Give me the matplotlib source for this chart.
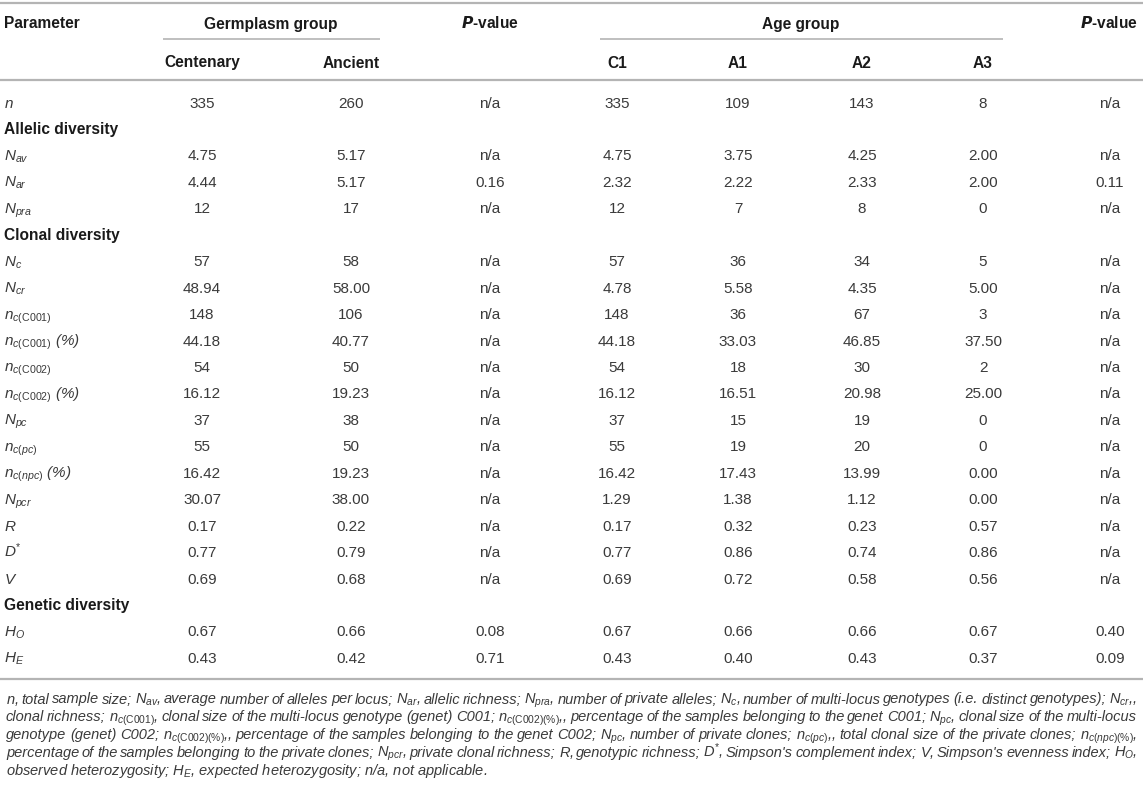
import matplotlib
matplotlib.use("Agg")
import matplotlib.pyplot as plt

plt.rcParams['font.family'] = ['Liberation Sans', 'DejaVu Sans']
plt.rcParams['mathtext.fontset'] = 'custom'
plt.rcParams['mathtext.rm'] = 'Liberation Sans'
plt.rcParams['mathtext.it'] = 'Liberation Sans:italic'
plt.rcParams['mathtext.bf'] = 'Liberation Sans:bold'

# ---------------- data ----------------
parameters = [r"$n$", "Allelic diversity", r"$N_{av}$", r"$N_{ar}$", r"$N_{pra}$",
              "Clonal diversity", r"$N_{c}$", r"$N_{cr}$", r"$n_{c(\mathrm{C001})}$",
              r"$n_{c(\mathrm{C001})}$ (%)", r"$n_{c(\mathrm{C002})}$", r"$n_{c(\mathrm{C002})}$ (%)",
              r"$N_{pc}$", r"$n_{c(pc)}$", r"$n_{c(npc)}$ (%)", r"$N_{pcr}$", r"$R$", r"$D^{*}$",
              r"$V$", "Genetic diversity", r"$H_{O}$", r"$H_{E}$"]
section_rows = ["Allelic diversity", "Clonal diversity", "Genetic diversity"]

centenary = ["335", "", "4.75", "4.44", "12", "", "57", "48.94", "148", "44.18", "54", "16.12",
             "37", "55", "16.42", "30.07", "0.17", "0.77", "0.69", "", "0.67", "0.43"]
ancient = ["260", "", "5.17", "5.17", "17", "", "58", "58.00", "106", "40.77", "50", "19.23",
           "38", "50", "19.23", "38.00", "0.22", "0.79", "0.68", "", "0.66", "0.42"]
p_germplasm = ["n/a", "", "n/a", "0.16", "n/a", "", "n/a", "n/a", "n/a", "n/a", "n/a", "n/a",
               "n/a", "n/a", "n/a", "n/a", "n/a", "n/a", "n/a", "", "0.08", "0.71"]
c1 = ["335", "", "4.75", "2.32", "12", "", "57", "4.78", "148", "44.18", "54", "16.12",
      "37", "55", "16.42", "1.29", "0.17", "0.77", "0.69", "", "0.67", "0.43"]
a1 = ["109", "", "3.75", "2.22", "7", "", "36", "5.58", "36", "33.03", "18", "16.51",
      "15", "19", "17.43", "1.38", "0.32", "0.86", "0.72", "", "0.66", "0.40"]
a2 = ["143", "", "4.25", "2.33", "8", "", "34", "4.35", "67", "46.85", "30", "20.98",
      "19", "20", "13.99", "1.12", "0.23", "0.74", "0.58", "", "0.66", "0.43"]
a3 = ["8", "", "2.00", "2.00", "0", "", "5", "5.00", "3", "37.50", "2", "25.00",
      "0", "0", "0.00", "0.00", "0.57", "0.86", "0.56", "", "0.67", "0.37"]
p_age = ["n/a", "", "n/a", "0.11", "n/a", "", "n/a", "n/a", "n/a", "n/a", "n/a", "n/a",
         "n/a", "n/a", "n/a", "n/a", "n/a", "n/a", "n/a", "", "0.40", "0.09"]

column_labels = ["Centenary", "Ancient", "", "C1", "A1", "A2", "A3", ""]
group_labels = ["Germplasm group", "Age group"]
pvalue_label = r"$\mathbfit{P}$-value"

footnote_lines = [
    r"$n$, total sample size; $N_{av}$, average number of alleles per locus; $N_{ar}$, allelic richness; $N_{pra}$, number of private alleles; $N_{c}$, number of multi-locus genotypes (i.e. distinct genotypes); $N_{cr}$,,",
    r"clonal richness; $n_{c(\mathrm{C001})}$, clonal size of the multi-locus genotype (genet) C001; $n_{c(\mathrm{C002})(\%)}$,, percentage of the samples belonging to the genet C001; $N_{pc}$, clonal size of the multi-locus",
    r"genotype (genet) C002; $n_{c(\mathrm{C002})(\%)}$,, percentage of the samples belonging to the genet C002; $N_{pc}$, number of private clones; $n_{c(pc)}$,, total clonal size of the private clones; $n_{c(npc)(\%)}$,",
    r"percentage of the samples belonging to the private clones; $N_{pcr}$, private clonal richness; $R$, genotypic richness; $D^{*}$, Simpson's complement index; $V$, Simpson's evenness index; $H_{O}$,",
    r"observed heterozygosity; $H_{E}$, expected heterozygosity; n/a, not applicable.",
]

# ---------------- layout ----------------
W, H = 1143, 787
fig = plt.figure(figsize=(W / 100, H / 100), dpi=100)
ax = fig.add_axes([0, 0, 1, 1])
ax.set_xlim(0, W)
ax.set_ylim(H, 0)
ax.axis('off')

TXT = '#1a1a1a'
VAL = '#3a3a3a'
LINE = '#b4b4b4'
FS = 11.0
BFS = 11.2
BASE = 5.5  # baseline offset from row centre (px)

col_x = [202, 351, 490, 617, 738, 862, 983, 1110]
columns = [centenary, ancient, p_germplasm, c1, a1, a2, a3, p_age]

# rules
ax.plot([0, W], [3, 3], color=LINE, lw=1.6, solid_capstyle='butt')
ax.plot([0, W], [80, 80], color=LINE, lw=1.6, solid_capstyle='butt')
ax.plot([163, 380], [39, 39], color=LINE, lw=1.2, solid_capstyle='butt')
ax.plot([600, 1003], [39, 39], color=LINE, lw=1.2, solid_capstyle='butt')
ax.plot([0, W], [679, 679], color=LINE, lw=1.6, solid_capstyle='butt')

# header
ax.text(4, 23 + BASE, "Parameter", fontsize=BFS, fontweight='bold', color=TXT, va='baseline', ha='left')
ax.text(271, 23 + BASE, group_labels[0], fontsize=BFS, fontweight='bold', color=TXT, va='baseline', ha='center')
ax.text(801, 23 + BASE, group_labels[1], fontsize=BFS, fontweight='bold', color=TXT, va='baseline', ha='center')
ax.text(490, 23 + BASE, pvalue_label, fontsize=BFS, fontweight='bold', color=TXT, va='baseline', ha='center')
ax.text(1138, 23 + BASE, pvalue_label, fontsize=BFS, fontweight='bold', color=TXT, va='baseline', ha='right')
for x, lab in zip(col_x, column_labels):
    if lab:
        ax.text(x, 62 + BASE, lab, fontsize=BFS, fontweight='bold', color=TXT, va='baseline', ha='center')

# body
y0, dy = 102, 26.45
for i, p in enumerate(parameters):
    y = y0 + i * dy + BASE
    if p in section_rows:
        ax.text(4, y, p, fontsize=BFS, fontweight='bold', color=TXT, va='baseline', ha='left')
        continue
    ax.text(4, y, p, fontsize=FS, style='italic', color=VAL, va='baseline', ha='left')
    for x, col in zip(col_x, columns):
        ax.text(x, y, col[i], fontsize=FS, color=VAL, va='baseline', ha='center')

# footnote (justified)
fig.canvas.draw()
renderer = fig.canvas.get_renderer()
FFS = 10.5
left, right = 6, 1137
fy0, fdy = 698, 17.8
for k, line in enumerate(footnote_lines):
    y = fy0 + k * fdy + BASE
    words = line.split(' ')
    if k == len(footnote_lines) - 1:
        ax.text(left, y, line, fontsize=FFS, style='italic', color=VAL, va='baseline', ha='left')
        continue
    objs = []
    widths = []
    for w in words:
        t = ax.text(0, y, w, fontsize=FFS, style='italic', color=VAL, va='baseline', ha='left')
        bb = t.get_window_extent(renderer=renderer)
        widths.append(bb.width)
        objs.append(t)
    total = sum(widths)
    gap = (right - left - total) / (len(words) - 1)
    x = left
    for t, wdt in zip(objs, widths):
        t.set_x(x)
        x += wdt + gap

fig.savefig("out.png", dpi=100)
